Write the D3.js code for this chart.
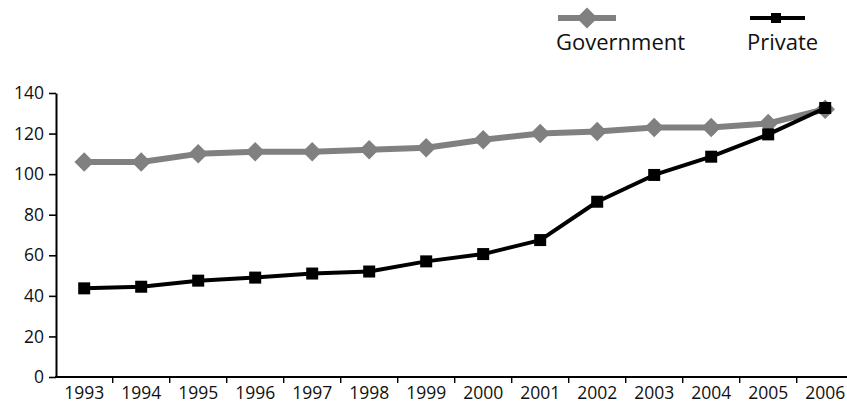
<!DOCTYPE html>
<html>
<head>
<meta charset="utf-8">
<script src="https://cdn.jsdelivr.net/npm/d3@7"></script>
<style>
  html, body { margin: 0; padding: 0; background: #fff; }
  svg { display: block; }
  text { font-family: "Open Sans", "Noto Sans", sans-serif; fill: #111; }
</style>
</head>
<body>
<svg id="chart" width="847" height="403"></svg>
<script>
const years = ["1993","1994","1995","1996","1997","1998","1999","2000","2001","2002","2003","2004","2005","2006"];
const government = [106,106,110,111,111,112,113,117,120,121,123,123,125,132];
const privateVals = [43.7,44.5,47.5,49,51,52,57,60.6,67.5,86.4,99.6,108.6,119.6,132.6];
const yTicks = [0,20,40,60,80,100,120,140];
const seriesNames = ["Government","Private"];

const svg = d3.select("#chart");
const x = d3.scaleBand().domain(years).range([55.7, 853.7]);
const y = d3.scaleLinear().domain([0, 140]).range([377, 93]);
const cx = d => x(d) + x.bandwidth() / 2;

// Y axis
const yAxis = svg.append("g").attr("transform", "translate(56,0)")
  .call(d3.axisLeft(y).tickValues(yTicks).tickSize(7).tickPadding(5).tickSizeOuter(0));
yAxis.select(".domain").attr("stroke", "#000").attr("stroke-width", 2);
yAxis.selectAll(".tick line").attr("stroke", "#000").attr("stroke-width", 1.6);
yAxis.selectAll(".tick text").attr("font-size", "17.5px").attr("font-family", "Open Sans").attr("fill", "#111");

// X axis line
svg.append("line").attr("x1", 55).attr("x2", 847).attr("y1", 377).attr("y2", 377)
  .attr("stroke", "#000").attr("stroke-width", 2);
// X ticks at band boundaries
svg.append("g").selectAll("line").data(years.slice(1)).join("line")
  .attr("x1", d => x(d)).attr("x2", d => x(d))
  .attr("y1", 377).attr("y2", 383)
  .attr("stroke", "#000").attr("stroke-width", 1.4);
// X labels
svg.append("g").selectAll("text").data(years).join("text")
  .attr("x", d => cx(d)).attr("y", 399)
  .attr("text-anchor", "middle")
  .attr("font-size", "17.5px")
  .text(d => d);

// Lines
const govColor = "#808080";
const privColor = "#000";
const lineGen = d3.line().x((d, i) => cx(years[i])).y(d => y(d));

svg.append("path").datum(government).attr("d", lineGen)
  .attr("fill", "none").attr("stroke", govColor).attr("stroke-width", 6).attr("stroke-linejoin", "round");
svg.append("g").selectAll("path").data(government).join("path")
  .attr("d", d3.symbol(d3.symbolSquare, 190))
  .attr("transform", (d, i) => `translate(${cx(years[i])},${y(d)}) rotate(45)`)
  .attr("fill", govColor);

svg.append("path").datum(privateVals).attr("d", lineGen)
  .attr("fill", "none").attr("stroke", privColor).attr("stroke-width", 4).attr("stroke-linejoin", "round");
svg.append("g").selectAll("rect").data(privateVals).join("rect")
  .attr("x", (d, i) => cx(years[i]) - 6).attr("y", d => y(d) - 6)
  .attr("width", 12).attr("height", 12)
  .attr("fill", privColor);

// Legend
const lg = svg.append("g");
// Government
lg.append("line").attr("x1", 558).attr("x2", 616).attr("y1", 18).attr("y2", 18)
  .attr("stroke", govColor).attr("stroke-width", 6);
lg.append("path").attr("d", d3.symbol(d3.symbolSquare, 220))
  .attr("transform", "translate(587,18) rotate(45)").attr("fill", govColor);
lg.append("text").attr("x", 556).attr("y", 50).attr("font-size", "22px").text(seriesNames[0]);
// Private
lg.append("line").attr("x1", 750).attr("x2", 805).attr("y1", 18).attr("y2", 18)
  .attr("stroke", privColor).attr("stroke-width", 4);
lg.append("rect").attr("x", 771).attr("y", 13).attr("width", 10).attr("height", 10).attr("fill", privColor);
lg.append("text").attr("x", 747).attr("y", 50).attr("font-size", "22px").text(seriesNames[1]);
</script>
</body>
</html>
